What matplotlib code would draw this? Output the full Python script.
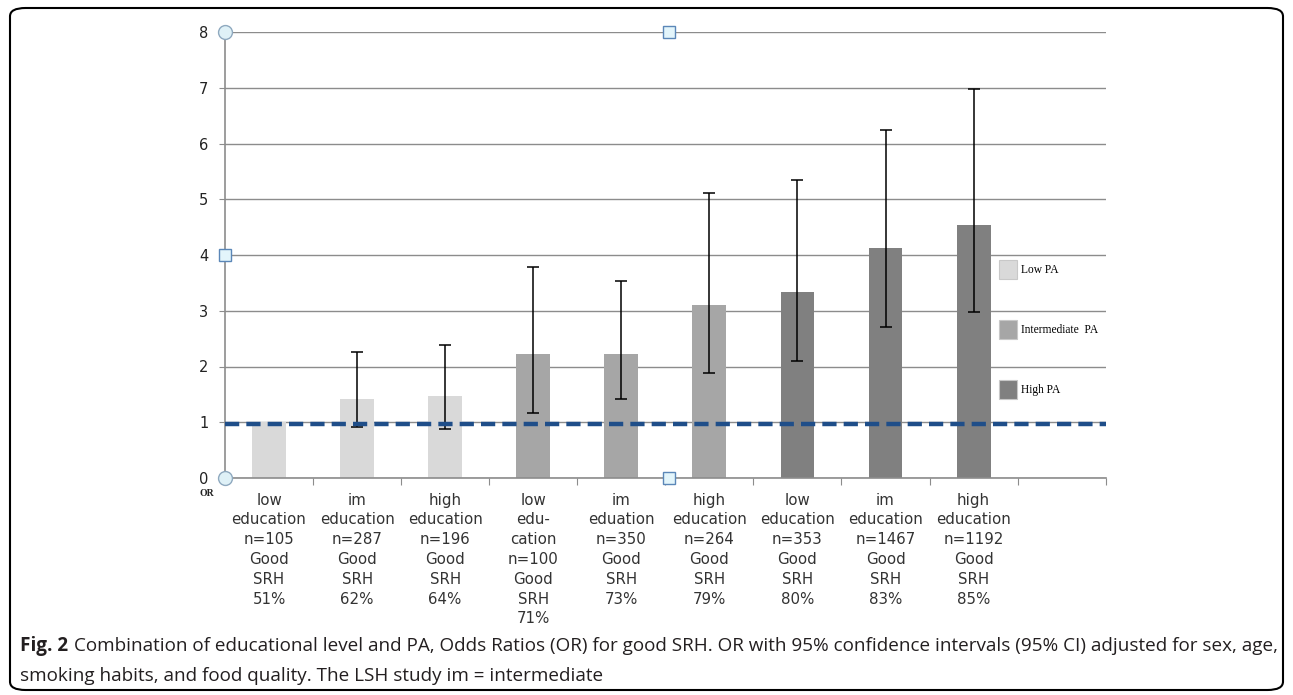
import matplotlib
matplotlib.use("Agg")
import matplotlib.pyplot as plt
from matplotlib.patches import Patch, FancyBboxPatch

# --- data ---
labels = [
    "low\neducation\nn=105\nGood\nSRH\n51%",
    "im\neducation\nn=287\nGood\nSRH\n62%",
    "high\neducation\nn=196\nGood\nSRH\n64%",
    "low\nedu-\ncation\nn=100\nGood\nSRH\n71%",
    "im\neduation\nn=350\nGood\nSRH\n73%",
    "high\neducation\nn=264\nGood\nSRH\n79%",
    "low\neducation\nn=353\nGood\nSRH\n80%",
    "im\neducation\nn=1467\nGood\nSRH\n83%",
    "high\neducation\nn=1192\nGood\nSRH\n85%",
]
odds_ratio = [1.00, 1.42, 1.47, 2.22, 2.22, 3.11, 3.34, 4.12, 4.53]
ci_low = [None, 0.91, 0.88, 1.16, 1.42, 1.89, 2.10, 2.71, 2.97]
ci_high = [None, 2.26, 2.39, 3.79, 3.53, 5.12, 5.34, 6.25, 6.97]
pa_group = ["Low PA"] * 3 + ["Intermediate  PA"] * 3 + ["High PA"] * 3
pa_colors = {"Low PA": "#d9d9d9", "Intermediate  PA": "#a6a6a6", "High PA": "#808080"}
ref_line = 0.97

caption_bold = "Fig. 2"
caption_1 = ("Combination of educational level and PA, Odds Ratios (OR) for good SRH. "
             "OR with 95% confidence intervals (95% CI) adjusted for sex, age,")
caption_2 = "smoking habits, and food quality. The LSH study im = intermediate"

W, H = 1293, 695
fig = plt.figure(figsize=(W / 100, H / 100), dpi=100)
ax = fig.add_axes([225 / W, 1 - 478 / H, (1105.7 - 225) / W, (478 - 32) / H])

x = list(range(len(odds_ratio)))
colors = [pa_colors[g] for g in pa_group]
ax.bar(x, odds_ratio, width=0.385, color=colors, zorder=2)

# error bars (first category has none)
ex = [i for i in x if ci_low[i] is not None]
ey = [odds_ratio[i] for i in ex]
yerr = [[odds_ratio[i] - ci_low[i] for i in ex], [ci_high[i] - odds_ratio[i] for i in ex]]
ax.errorbar(ex, ey, yerr=yerr, fmt="none", ecolor="black", elinewidth=1.1,
            capsize=4, capthick=1.1, zorder=4)

ax.axhline(ref_line, color="#1f4e89", lw=3.2, ls=(0, (3.2, 1.6)), zorder=5)

ax.set_xlim(-0.5, 9.44)
ax.set_ylim(0, 8)
ax.set_yticks(range(0, 9))
ax.yaxis.grid(True, color="#8c8c8c", lw=1, zorder=0)
ax.set_axisbelow(True)
for s in ["top", "right"]:
    ax.spines[s].set_visible(False)
for s in ["left", "bottom"]:
    ax.spines[s].set_color("#8c8c8c")
    ax.spines[s].set_linewidth(1.2)
ax.tick_params(axis="y", length=4, color="#8c8c8c", pad=8, labelsize=10.5, labelcolor="#222222")

# boundaries as major ticks, category labels on minor ticks
ax.set_xticks([i + 0.5 for i in range(10)])
ax.set_xticklabels([])
ax.tick_params(axis="x", which="major", length=5, color="#8c8c8c")
ax.set_xticks(x, minor=True)
ax.set_xticklabels(labels, minor=True, fontsize=10.8, color="#333333", linespacing=1.4)
ax.tick_params(axis="x", which="minor", length=0, pad=10.5)

# chart selection handles
ax.plot([0, 0], [0, 1], "o", ms=10, mfc="#dff1f7", mec="#8fa9bf", mew=1,
        transform=ax.transAxes, clip_on=False, zorder=6)
ax.plot([0, 0.504, 0.504], [0.5, 1, 0], "s", ms=8, mfc="#e3f5fb", mec="#5b87b8", mew=1,
        transform=ax.transAxes, clip_on=False, zorder=6)

fig.text(207 / W, 1 - 494 / H, "OR", fontsize=7, fontweight="bold",
         family="Liberation Serif", ha="center", va="center", color="#222222")

handles = [Patch(facecolor=pa_colors[k], edgecolor="#c8c8c8", lw=0.8) for k in pa_colors]
ax.legend(handles, list(pa_colors), loc="upper left",
          bbox_to_anchor=(999 / W, 1 - 260 / H), bbox_transform=fig.transFigure,
          frameon=False, prop={"family": "Liberation Serif", "size": 8.3},
          handlelength=1.6, handleheight=2.1, handletextpad=0.3,
          labelspacing=3.6, borderpad=0, borderaxespad=0)

# caption
fig.text(20 / W, 1 - 646 / H, caption_bold, fontsize=13.6, fontweight="bold",
         family="Open Sans", va="center", color="#231f20")
fig.text(74 / W, 1 - 646 / H, caption_1, fontsize=13.6,
         family="Open Sans", va="center", color="#231f20")
fig.text(20 / W, 1 - 676 / H, caption_2, fontsize=13.6,
         family="Open Sans", va="center", color="#231f20")

# rounded frame around the figure
frame = FancyBboxPatch((10 / W, 5 / H), (W - 20) / W, (H - 13) / H,
                       boxstyle="round,pad=0,rounding_size=0.012",
                       transform=fig.transFigure, fill=False, ec="black", lw=1.5)
fig.patches.append(frame)

fig.savefig("out.png", dpi=100)
